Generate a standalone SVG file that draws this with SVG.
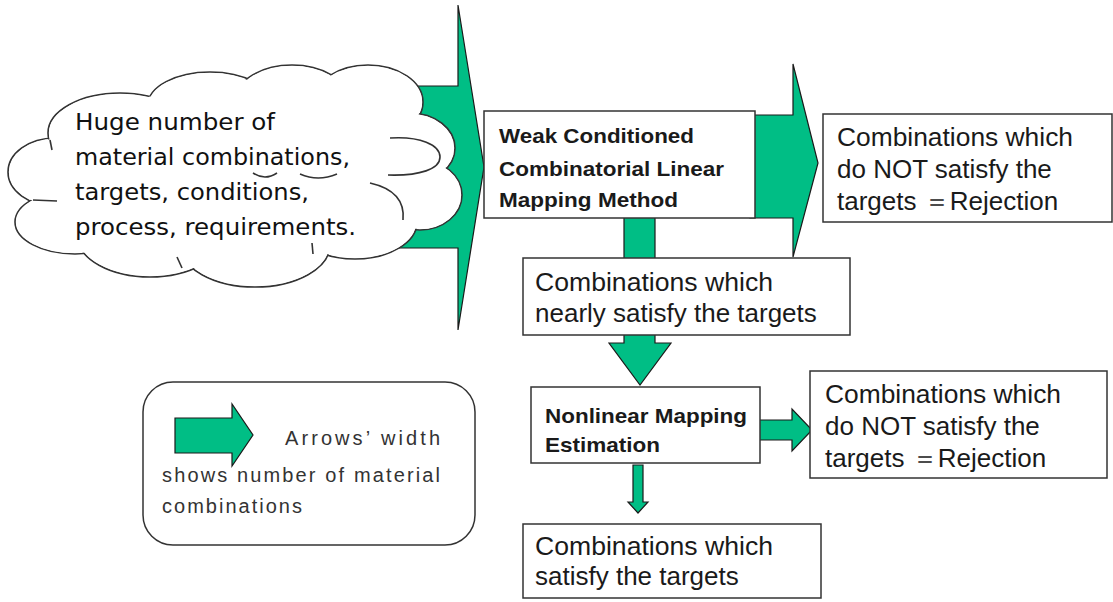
<svg xmlns="http://www.w3.org/2000/svg" width="1113" height="602" viewBox="0 0 1113 602">
<defs>
<style>
.arrow{fill:#00BE85;stroke:#1a1a1a;stroke-width:1.2;stroke-linejoin:miter}
.box{fill:#fff;stroke:#333;stroke-width:1.5}
.cl{fill:#fff;stroke:#333;stroke-width:1.6}
.clf{fill:#fff;stroke:none}
.inner{fill:none;stroke:#333;stroke-width:1.6}
.t26{font-family:"Liberation Sans",Arial,sans-serif;font-size:26px;fill:#1a1a1a}
.tb{font-family:"Liberation Sans",Arial,sans-serif;font-size:21px;font-weight:bold;fill:#1a1a1a}
.tc{font-family:"DejaVu Sans","Noto Sans",sans-serif;font-size:23.5px;fill:#111}
.tl{font-family:"Liberation Sans",Arial,sans-serif;font-size:20px;fill:#333}
</style>
</defs>
<rect width="1113" height="602" fill="#fff"/>
<g id="connectors">
<polygon class="arrow" points="380,86 458,86 458,5 484,167 458,330 458,248 380,248"/>
<polygon class="arrow" points="750,115 793,115 793,64 818,163 793,257 793,218 750,218"/>
<polygon class="arrow" points="624,215 655,215 655,343 671,343 640,385 609,343 624,343"/>
<polygon class="arrow" points="755,420 792,420 792,409 812,430 792,451 792,440 755,440"/>
<polygon class="arrow" points="633,465 643,465 643,502 648,502 638,513 628,502 633,502"/>
</g>
<g id="cloud">
<g>
<ellipse class="cl" cx="55" cy="172" rx="47" ry="34"/>
<ellipse class="cl" cx="75" cy="222" rx="60" ry="32"/>
<ellipse class="cl" cx="120" cy="133" rx="72" ry="40"/>
<ellipse class="cl" cx="210" cy="105" rx="62" ry="33"/>
<ellipse class="cl" cx="292" cy="98" rx="55" ry="33"/>
<ellipse class="cl" cx="368" cy="102" rx="55" ry="37"/>
<ellipse class="cl" cx="410" cy="148" rx="45" ry="35"/>
<ellipse class="cl" cx="420" cy="195" rx="42" ry="35"/>
<ellipse class="cl" cx="355" cy="222" rx="62" ry="37"/>
<ellipse class="cl" cx="255" cy="245" rx="75" ry="42"/>
<ellipse class="cl" cx="150" cy="237" rx="72" ry="40"/>
</g>
<g>
<ellipse class="clf" cx="55" cy="172" rx="46" ry="33"/>
<ellipse class="clf" cx="75" cy="222" rx="59" ry="31"/>
<ellipse class="clf" cx="120" cy="133" rx="71" ry="39"/>
<ellipse class="clf" cx="210" cy="105" rx="61" ry="32"/>
<ellipse class="clf" cx="292" cy="98" rx="54" ry="32"/>
<ellipse class="clf" cx="368" cy="102" rx="54" ry="36"/>
<ellipse class="clf" cx="410" cy="148" rx="44" ry="34"/>
<ellipse class="clf" cx="420" cy="195" rx="41" ry="34"/>
<ellipse class="clf" cx="355" cy="222" rx="61" ry="36"/>
<ellipse class="clf" cx="255" cy="245" rx="74" ry="41"/>
<ellipse class="clf" cx="150" cy="237" rx="71" ry="39"/>
<ellipse class="clf" cx="235" cy="172" rx="185" ry="85"/>
</g>
<path class="inner" d="M 390,138 C 420,136 440,145 440,157 C 440,169 420,176 388,175"/>
<path class="inner" d="M 370,183 C 392,188 405,200 403,220"/>
<path class="inner" d="M 253,173 Q 265,181 277,173"/>
<path class="inner" d="M 300,174 Q 318,182 337,174"/>
<path class="inner" d="M 33,200 L 57,201"/>
<path class="inner" d="M 50,140 L 52,150"/>
<path class="inner" d="M 177,257 L 182,268"/>
<path class="inner" d="M 312,243 L 313,254"/>
<text class="tc" x="75" y="130" textLength="200" lengthAdjust="spacingAndGlyphs">Huge number of</text>
<text class="tc" x="75" y="165" textLength="275" lengthAdjust="spacingAndGlyphs">material combinations,</text>
<text class="tc" x="75" y="200" textLength="234" lengthAdjust="spacingAndGlyphs">targets, conditions,</text>
<text class="tc" x="75" y="235" textLength="281" lengthAdjust="spacingAndGlyphs">process, requirements.</text>
</g>
<g id="weak">
<rect class="box" x="484" y="111" width="271" height="107"/>
<text class="tb" x="499" y="143" textLength="195" lengthAdjust="spacingAndGlyphs">Weak Conditioned</text>
<text class="tb" x="499" y="176" textLength="225" lengthAdjust="spacingAndGlyphs">Combinatorial Linear</text>
<text class="tb" x="499" y="207" textLength="179" lengthAdjust="spacingAndGlyphs">Mapping Method</text>
</g>
<g id="reject1">
<rect class="box" x="823" y="114" width="289" height="108"/>
<text class="t26" x="837" y="146" textLength="236" lengthAdjust="spacingAndGlyphs">Combinations which</text>
<text class="t26" x="837" y="178">do NOT satisfy the</text>
<text class="t26" x="837" y="210">targets ＝Rejection</text>
</g>
<g id="nearly">
<rect class="box" x="523" y="258" width="327" height="77"/>
<text class="t26" x="535" y="291" textLength="238" lengthAdjust="spacingAndGlyphs">Combinations which</text>
<text class="t26" x="535" y="322">nearly satisfy the targets</text>
</g>
<g id="nonlinear">
<rect class="box" x="531" y="387" width="229" height="76"/>
<text class="tb" x="545" y="423" textLength="202" lengthAdjust="spacingAndGlyphs">Nonlinear Mapping</text>
<text class="tb" x="545" y="452" textLength="115" lengthAdjust="spacingAndGlyphs">Estimation</text>
</g>
<g id="reject2">
<rect class="box" x="810" y="371" width="297" height="107"/>
<text class="t26" x="825" y="403" textLength="236" lengthAdjust="spacingAndGlyphs">Combinations which</text>
<text class="t26" x="825" y="435">do NOT satisfy the</text>
<text class="t26" x="825" y="467">targets ＝Rejection</text>
</g>
<g id="satisfy">
<rect class="box" x="523" y="524" width="298" height="74"/>
<text class="t26" x="535" y="555" textLength="238" lengthAdjust="spacingAndGlyphs">Combinations which</text>
<text class="t26" x="535" y="585">satisfy the targets</text>
</g>
<g id="legend">
<rect class="box" x="143" y="382" width="332" height="163" rx="30" ry="30"/>
<polygon class="arrow" points="175,418 232,418 232,404 253,435 232,466 232,453 175,453"/>
<text class="tl" x="285" y="445" textLength="155" lengthAdjust="spacing">Arrows’ width</text>
<text class="tl" x="162" y="482" textLength="278" lengthAdjust="spacing">shows number of material</text>
<text class="tl" x="162" y="513" textLength="140" lengthAdjust="spacing">combinations</text>
</g>
</svg>
